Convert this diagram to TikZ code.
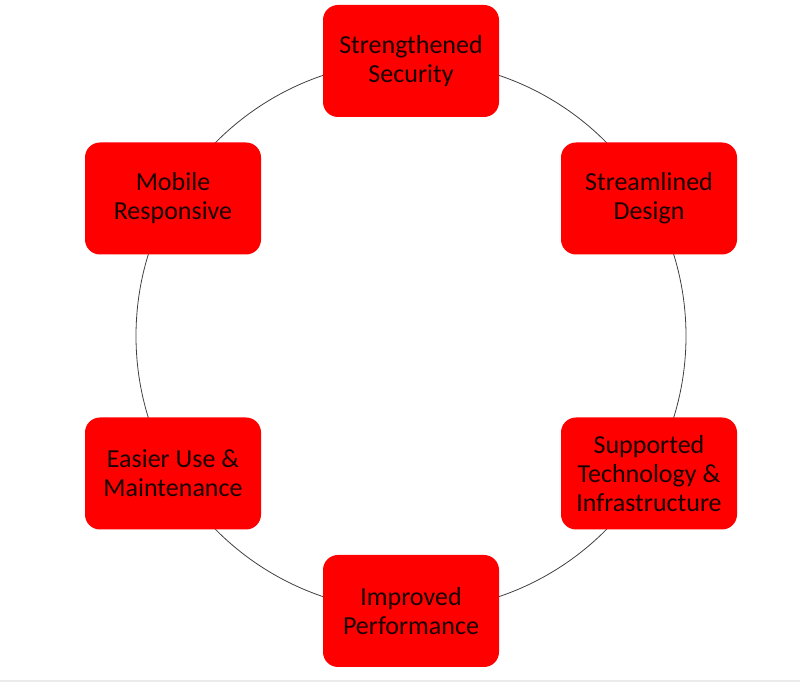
\documentclass[tikz,border=0pt]{standalone}
\usepackage{fontspec}
\setmainfont{Carlito}
\usepackage{tikz}
\usepackage{xcolor}
\definecolor{boxred}{RGB}{255,0,0}
\definecolor{boxtext}{RGB}{25,0,0}
\tikzset{goal/.style={fill=boxred, rounded corners=15pt, minimum width=176pt, minimum height=112pt, align=center, text=boxtext, font=\fontsize{26}{29}\selectfont}}

\begin{document}
\begin{tikzpicture}[x=1pt,y=1pt]
\useasboundingbox (0,0) rectangle (800,682);
\fill [black!8] (0,0) rectangle (800,2);
\coordinate (hub) at (411,346);
\draw  [line width=0.8pt, black!75] (hub) circle (275);
\node [goal] (security)  at (411,621)   {Strengthened\\Security};
\node [goal] (design)    at (649,483.5) {Streamlined\\Design};
\node [goal] (infra)     at (649,208.5) {Supported\\Technology \&\\Infrastructure};
\node [goal] (perf)      at (411,71)    {Improved\\Performance};
\node [goal] (upkeep)    at (173,208.5) {Easier Use \&\\Maintenance};
\node [goal] (mobile)    at (173,483.5) {Mobile\\Responsive};
\end{tikzpicture}
\end{document}
